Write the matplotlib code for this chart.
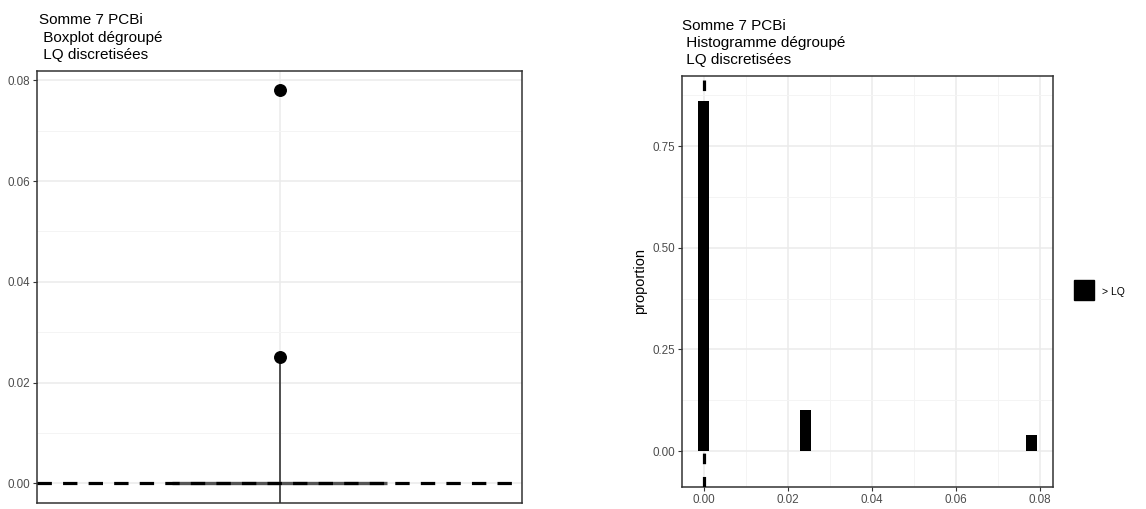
import numpy as np
import matplotlib
matplotlib.use('Agg')
import matplotlib.pyplot as plt
from matplotlib.lines import Line2D
from matplotlib.ticker import MultipleLocator

plt.rcParams['font.family'] = ['Liberation Sans', 'DejaVu Sans']

# data
values = [0.0, 0.025, 0.078]          # distinct concentrations
proportions = [0.86, 0.10, 0.04]      # share of samples for each value
lq = 0.0                              # LQ threshold (dashed line)
box_stats = [0.0, 0.0, 0.0]           # q1, median, q3
left_title = 'Somme 7 PCBi\n Boxplot dégroupé\n LQ discretisées'
right_title = 'Somme 7 PCBi\n Histogramme dégroupé\n LQ discretisées'
legend_label = '> LQ'

tick_col = '#4D4D4D'
frame_col = '#333333'
major_col = '#EBEBEB'
minor_col = '#F4F4F4'


def style_axes(ax):
    for s in ax.spines.values():
        s.set_color(frame_col)
        s.set_linewidth(1.1)
    ax.tick_params(which='major', length=3, width=0.8, color=frame_col,
                   labelcolor=tick_col, labelsize=8.4, pad=2)
    ax.tick_params(which='minor', length=0)
    ax.grid(which='major', color=major_col, linewidth=1.1, zorder=0)
    ax.grid(which='minor', color=minor_col, linewidth=0.7, zorder=0)
    ax.set_axisbelow(True)


fig = plt.figure(figsize=(11.46, 5.09), dpi=100)

# ---- left panel: boxplot
ax1 = fig.add_axes([37 / 1146, 1 - 503 / 509, 485 / 1146, (503 - 70.7) / 509])
style_axes(ax1)
rng = max(values) - min(values)
ylo, yhi = min(values) - 0.05 * rng, max(values) + 0.05 * rng
ax1.set_ylim(ylo, yhi)
ax1.set_xlim(0.4, 1.6)
ax1.yaxis.set_major_locator(MultipleLocator(0.02))
ax1.yaxis.set_minor_locator(MultipleLocator(0.01))
ax1.yaxis.set_major_formatter(plt.FuncFormatter(lambda v, p: '{:.2f}'.format(v)))
ax1.set_xticks([1])
ax1.set_xticklabels([])
ax1.tick_params(axis='x', which='major', length=0)

outliers = [v for v in values if v > box_stats[2]]
ax1.vlines(1, ylo, sorted(outliers)[0], color=frame_col, linewidth=1.2, zorder=3)
ax1.hlines(box_stats[1], 1 - 0.265, 1 + 0.265, color='#555555', linewidth=2.4, zorder=3)
ax1.axhline(lq, color='black', linewidth=2.3, linestyle=(0, (4.5, 3.5)), zorder=4)
ax1.plot([1] * len(outliers), outliers, 'o', color='black', markersize=8.3, zorder=5)
ax1.text(0.005, 1.02, left_title, transform=ax1.transAxes, ha='left', va='bottom',
         fontsize=11, linespacing=1.3)

# ---- right panel: histogram
ax2 = fig.add_axes([681.7 / 1146, 1 - 487 / 509, (1052.7 - 681.7) / 1146, (487 - 75.7) / 509])
style_axes(ax2)
bw = (max(values) - min(values)) / 29
centers = [round(v / bw) * bw for v in values]
ax2.bar(centers, proportions, width=bw, color='black', zorder=3, label=legend_label)
ax2.axvline(lq, color='black', linewidth=2.3, linestyle=(0, (3.3, 4)), zorder=4)
ax2.set_xlim(-0.00524, 0.0831)
ax2.set_ylim(-0.0885, 0.923)
ax2.xaxis.set_major_locator(MultipleLocator(0.02))
ax2.xaxis.set_minor_locator(MultipleLocator(0.01))
ax2.yaxis.set_major_locator(MultipleLocator(0.25))
ax2.yaxis.set_minor_locator(MultipleLocator(0.125))
ax2.xaxis.set_major_formatter(plt.FuncFormatter(lambda v, p: '{:.2f}'.format(v)))
ax2.yaxis.set_major_formatter(plt.FuncFormatter(lambda v, p: '{:.2f}'.format(v)))
ax2.set_ylabel('proportion', fontsize=10.5, color='black', labelpad=4)
ax2.text(0.0, 1.02, right_title, transform=ax2.transAxes, ha='left', va='bottom',
         fontsize=11, linespacing=1.3)

handles = [Line2D([], [], marker='s', color='black', linestyle='None', markersize=15)]
fig.legend(handles, [legend_label], loc='center left', bbox_to_anchor=(1074 / 1146, 1 - 292 / 509),
           frameon=False, fontsize=7.5, handlelength=2.0, handleheight=2.0,
           handletextpad=0.7, borderpad=0, borderaxespad=0)

fig.savefig('out.png', dpi=100)
